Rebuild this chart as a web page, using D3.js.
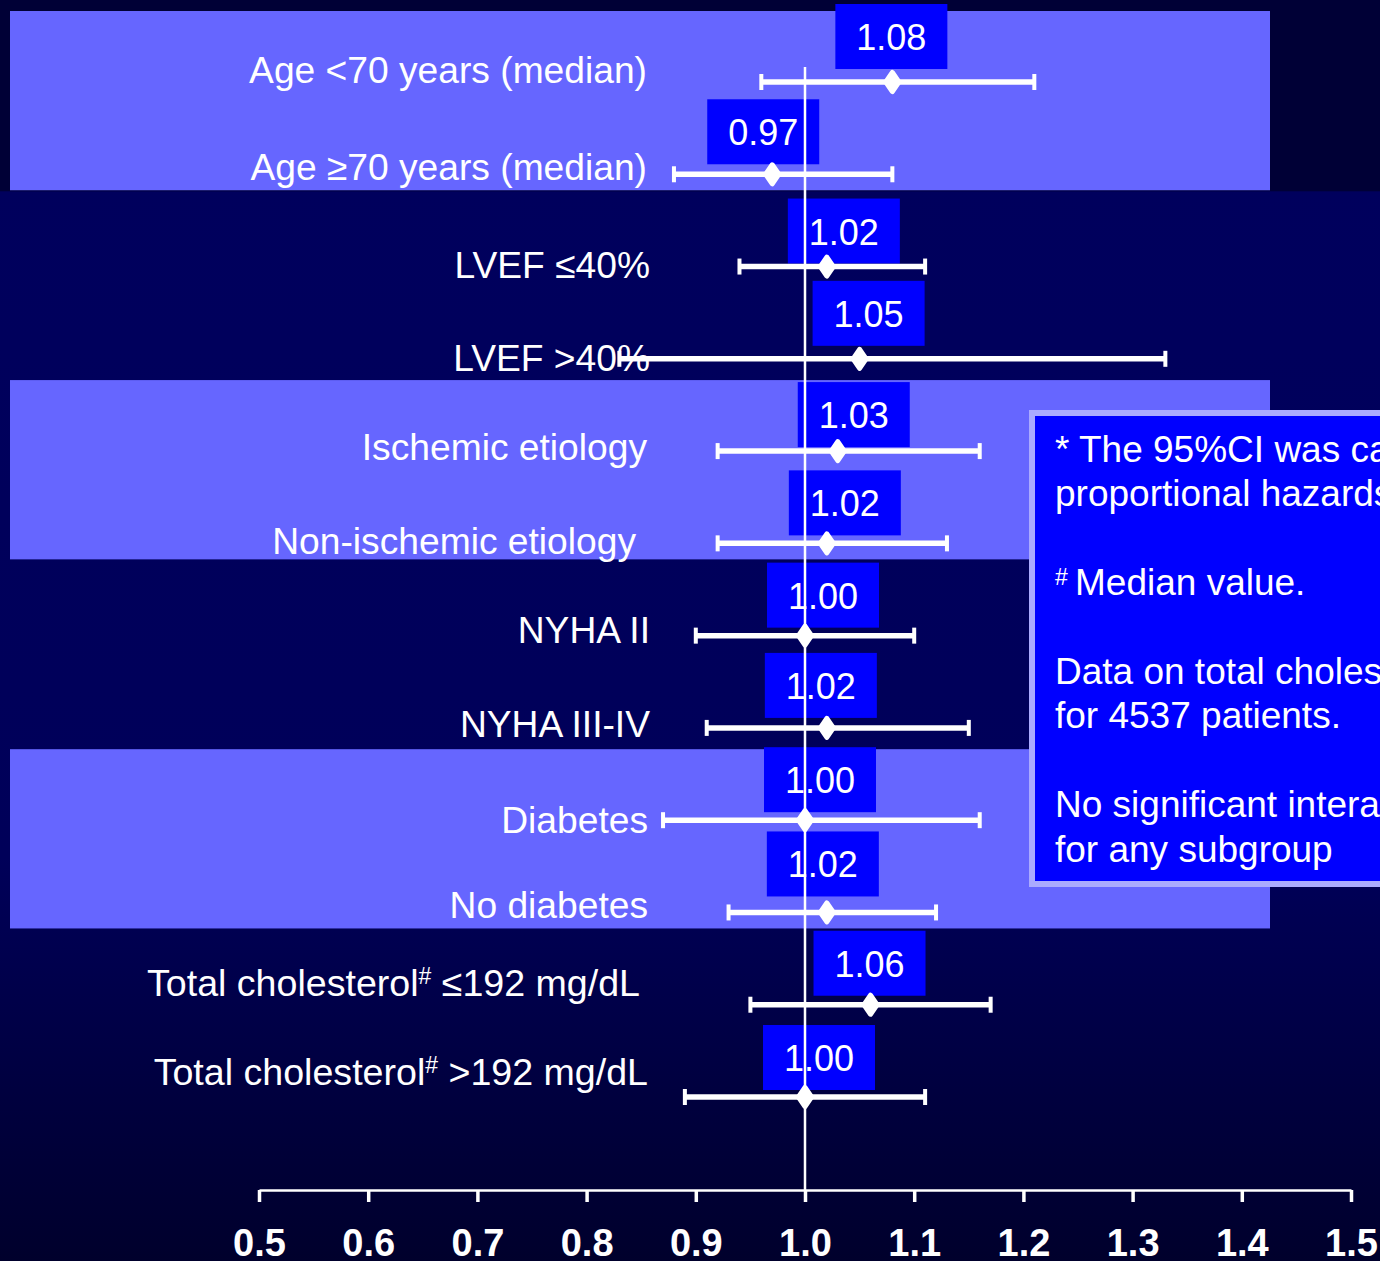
<!DOCTYPE html>
<html>
<head>
<meta charset="utf-8">
<script src="https://cdn.jsdelivr.net/npm/d3@7"></script>
<style>
  html, body { margin: 0; padding: 0; background: #000040; }
  svg { display: block; }
  text { font-family: "Liberation Sans", Arial, sans-serif; fill: #fff; }
</style>
</head>
<body>
<div id="forest"></div>
<script>
// subgroup rows, top to bottom ("#" marks a superscript)
const subgroups = [
  "Age <70 years (median)", "Age \u226570 years (median)",
  "LVEF \u226440%", "LVEF >40%",
  "Ischemic etiology", "Non-ischemic etiology",
  "NYHA II", "NYHA III-IV",
  "Diabetes", "No diabetes",
  "Total cholesterol# \u2264192 mg/dL", "Total cholesterol# >192 mg/dL"
];
const hazardRatios = [1.08, 0.97, 1.02, 1.05, 1.03, 1.02, 1.00, 1.02, 1.00, 1.02, 1.06, 1.00];
const ciLower = [0.96, 0.88, 0.94, 0.83, 0.92, 0.92, 0.90, 0.91, 0.87, 0.93, 0.95, 0.89];
const ciUpper = [1.21, 1.08, 1.11, 1.33, 1.16, 1.13, 1.10, 1.15, 1.16, 1.12, 1.17, 1.11];
const xTicks = [0.5, 0.6, 0.7, 0.8, 0.9, 1.0, 1.1, 1.2, 1.3, 1.4, 1.5];
const shadedPairs = [[0, 1], [4, 5], [8, 9]];
const noteLines = [
  "* The 95%CI was calculated using Cox",
  "proportional hazards model.",
  "",
  "#Median value.",
  "",
  "Data on total cholesterol available",
  "for 4537 patients.",
  "",
  "No significant interaction was found",
  "for any subgroup"
];

// hand nudges so the labels sit where the slide put them
const labelNudge = [[-1,-7],[-1,-2],[2,3],[2,4],[-1,1],[-12,3],[2,-1],[2,1],[0,5],[0,-2],[-8,-17],[0,-20]];
const boxNudge = [[-1,-4],[-9,-1],[17,6],[9,-4],[16,5],[18,1],[18,1],[-6,-1],[15,1],[-4,-7],[-1,0],[14,2]];

const W = 1380, H = 1261;

const svg = d3.select("#forest").append("svg")
  .attr("width", W)
  .attr("height", H);

const defs = svg.append("defs");
const grad = defs.append("linearGradient")
  .attr("id", "bg").attr("x1", 0).attr("y1", 0).attr("x2", 0).attr("y2", 1);
grad.append("stop").attr("offset", "0%").attr("stop-color", "#00005e");
grad.append("stop").attr("offset", "68%").attr("stop-color", "#000059");
grad.append("stop").attr("offset", "100%").attr("stop-color", "#00002c");

defs.append("clipPath").attr("id", "page")
  .append("rect").attr("width", W).attr("height", H);

svg.append("rect").attr("width", W).attr("height", H).attr("fill", "url(#bg)");

const x = d3.scaleLinear().domain([0.5, 1.5]).range([259, 1351]);
const y = d3.scalePoint().domain(d3.range(subgroups.length)).range([82, 1097]);

// darker strip across the top of the slide
svg.append("rect").attr("x", 0).attr("y", 0).attr("width", W).attr("height", y(1) + 17)
  .attr("fill", "#000036");

// shaded bands
svg.selectAll(".band")
  .data(shadedPairs)
  .join("rect")
  .attr("class", "band")
  .attr("x", 10)
  .attr("y", d => y(d[0]) - 71)
  .attr("width", 1260)
  .attr("height", d => y(d[1]) - y(d[0]) + 87)
  .attr("fill", "#6666ff");

// row labels
const labels = svg.selectAll(".row-label")
  .data(subgroups)
  .join("text")
  .attr("class", "row-label")
  .attr("text-anchor", "end")
  .attr("x", (d, i) => 648 + labelNudge[i][0])
  .attr("y", (d, i) => y(i) + 8 + labelNudge[i][1])
  .style("font-size", d => d.includes("#") ? "37.6px" : "37.2px");

labels.each(function(d) {
  const t = d3.select(this);
  const parts = d.split("#");
  t.append("tspan").text(parts[0]);
  if (parts.length > 1) {
    t.append("tspan").attr("dy", -12).style("font-size", "23px").text("#");
    t.append("tspan").attr("dy", 12).text(parts[1]);
  }
});

// note box, cut by the slide edge as in the original
const note = svg.append("g").attr("clip-path", "url(#page)");
note.append("rect")
  .attr("x", 1032).attr("y", 413)
  .attr("width", 420).attr("height", 471)
  .attr("fill", "#0000ff")
  .attr("stroke", "#aaaaff")
  .attr("stroke-width", 6);

const noteText = note.append("text").style("font-size", "37px");
noteLines.forEach((line, i) => {
  if (!line) return;
  const by = 462 + i * 44.4;
  if (line.startsWith("#")) {
    noteText.append("tspan").attr("x", 1055).attr("y", by - 10).style("font-size", "23px").text("#");
    noteText.append("tspan").attr("x", 1075).attr("y", by).text(line.slice(1));
  } else {
    noteText.append("tspan").attr("x", 1055).attr("y", by).text(line);
  }
});

// value boxes
const rows = subgroups.map((s, i) => ({ i, hr: hazardRatios[i], lo: ciLower[i], hi: ciUpper[i] }));
const boxW = 112, boxH = 65;

svg.selectAll(".hr-box")
  .data(rows)
  .join("rect")
  .attr("class", "hr-box")
  .attr("x", d => x(d.hr) + boxNudge[d.i][0] - boxW / 2)
  .attr("y", d => y(d.i) - 74 + boxNudge[d.i][1])
  .attr("width", boxW)
  .attr("height", boxH)
  .attr("fill", "#0000ff");

svg.selectAll(".hr-text")
  .data(rows)
  .join("text")
  .attr("class", "hr-text")
  .attr("text-anchor", "middle")
  .attr("x", d => x(d.hr) + boxNudge[d.i][0])
  .attr("y", d => y(d.i) - 74 + boxNudge[d.i][1] + 46)
  .style("font-size", "36px")
  .text(d => d.hr.toFixed(2));

// confidence intervals
svg.selectAll(".ci")
  .data(rows)
  .join("line")
  .attr("class", "ci")
  .attr("x1", d => x(d.lo))
  .attr("x2", d => x(d.hi))
  .attr("y1", d => y(d.i))
  .attr("y2", d => y(d.i))
  .attr("stroke", "#fff")
  .attr("stroke-width", 5.5);

const caps = rows.flatMap(d => [{ i: d.i, v: d.lo }, { i: d.i, v: d.hi }]);
svg.selectAll(".cap")
  .data(caps)
  .join("rect")
  .attr("class", "cap")
  .attr("x", d => x(d.v) - 2)
  .attr("y", d => y(d.i) - 8)
  .attr("width", 4)
  .attr("height", 16)
  .attr("fill", "#fff");

// reference line at 1.0
svg.append("line")
  .attr("x1", x(1)).attr("x2", x(1))
  .attr("y1", 67).attr("y2", 1190)
  .attr("stroke", "#fff")
  .attr("stroke-width", 2.5);

// point estimates
svg.selectAll(".hr-point")
  .data(rows)
  .join("path")
  .attr("class", "hr-point")
  .attr("transform", d => `translate(${x(d.hr)},${y(d.i)})`)
  .attr("d", "M0,-9.5 L6.5,0 L0,9.5 L-6.5,0 Z")
  .attr("fill", "#fff")
  .attr("stroke", "#fff")
  .attr("stroke-width", 5)
  .attr("stroke-linejoin", "round");

// x axis
const axis = svg.append("g")
  .attr("transform", "translate(0,1190)")
  .call(d3.axisBottom(x).tickValues(xTicks).tickFormat(d3.format(".1f")).tickSize(12).tickSizeOuter(0));

axis.select(".domain").attr("stroke", "#fff").attr("stroke-width", 2.5);
axis.selectAll(".tick line").attr("stroke", "#fff").attr("stroke-width", 3.5);
axis.selectAll(".tick text")
  .attr("y", 66)
  .attr("dy", 0)
  .attr("fill", "#fff")
  .style("font-family", "'Liberation Sans', Arial, sans-serif")
  .style("font-size", "38px")
  .style("font-weight", "bold");
</script>
</body>
</html>
